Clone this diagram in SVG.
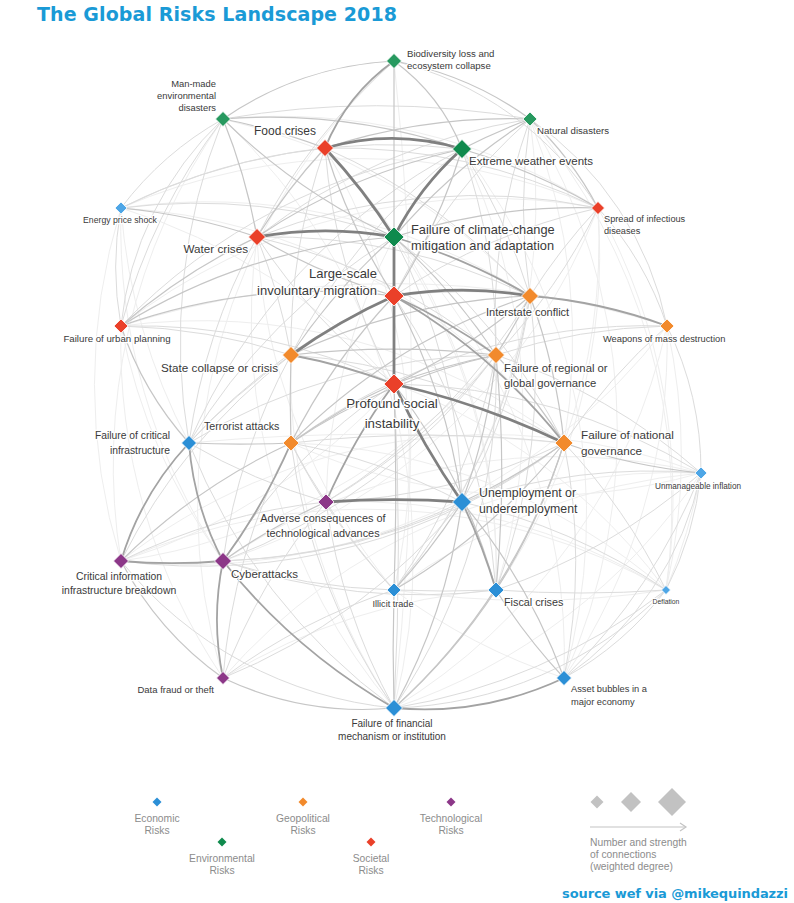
<svg xmlns="http://www.w3.org/2000/svg" width="794" height="903" viewBox="0 0 794 903">
<style>
.c path{fill:none}
.e1 path{stroke:#eeeeee;stroke-width:1}
.e2 path{stroke:#dcdcdc;stroke-width:1}
.e3 path{stroke:#c6c6c6;stroke-width:1.2}
.e4 path{stroke:#a3a3a3;stroke-width:1.8}
.e5 path{stroke:#808080;stroke-width:2.8}
.n path{stroke:#fff;stroke-width:0.8}
.env{fill:#27995f}.envd{fill:#0f8a4d}
.soc{fill:#ea4029}.geo{fill:#f28a2c}.eco{fill:#2b8fd6}.ecol{fill:#4ea6e6}.tec{fill:#8c3788}
.n text{font-family:"Liberation Sans",Arial,sans-serif;fill:#3a3a3a;stroke:#fff;stroke-width:2.5;stroke-linejoin:round;paint-order:stroke}
.lg text{font-family:"Liberation Sans",Arial,sans-serif;fill:#8c8c8c;font-size:10.3px}
.ttl{font-family:"DejaVu Sans",Verdana,sans-serif;font-weight:bold;fill:#1a9ad6}
</style>
<defs>
<marker id="arr" markerWidth="10" markerHeight="10" refX="8" refY="5" orient="auto" markerUnits="userSpaceOnUse">
<path d="M2 1L8 5L2 9" fill="none" stroke="#c4c4c4" stroke-width="1.2"/>
</marker>
</defs>
<rect width="794" height="903" fill="#fff"/>
<text class="ttl" x="37" y="21" font-size="19" textLength="360">The Global Risks Landscape 2018</text>

<g id="connectors" class="c">
<g class="e1">
<path d="M394 237A600 600 0 0 1 496 590"/>
<path d="M394 237A600 600 0 0 0 326 502"/>
<path d="M394 237A600 600 0 0 1 564 678"/>
<path d="M394 384A600 600 0 0 1 121 561"/>
<path d="M394 384A600 600 0 0 0 121 208"/>
<path d="M496 355A600 600 0 0 1 121 561"/>
<path d="M223 561A600 600 0 0 1 121 326"/>
<path d="M121 561A600 600 0 0 1 121 208"/>
<path d="M564 678A600 600 0 0 1 394 590"/>
<path d="M223 678A600 600 0 0 1 496 590"/>
<path d="M121 326A600 600 0 0 1 598 208"/>
<path d="M598 208A600 600 0 0 1 564 443"/>
<path d="M701 473A600 600 0 0 1 666 590"/>
<path d="M121 208A600 600 0 0 1 598 208"/>
<path d="M223 119A600 600 0 0 1 598 208"/>
<path d="M121 208A600 600 0 0 1 530 296"/>
<path d="M121 326A900 900 0 0 1 667 326"/>
<path d="M189 443A2000 2000 0 0 1 564 443"/>
<path d="M121 561A600 600 0 0 1 666 590"/>
<path d="M223 561A600 600 0 0 1 701 473"/>
<path d="M223 678A600 600 0 0 1 701 473"/>
<path d="M394 590A600 600 0 0 1 701 473"/>
<path d="M223 119A600 600 0 0 1 394 708"/>
<path d="M394 61A3000 3000 0 0 1 394 708"/>
<path d="M530 119A600 600 0 0 1 564 678"/>
<path d="M598 208A600 600 0 0 1 666 590"/>
<path d="M667 326A600 600 0 0 1 666 590"/>
<path d="M667 326A600 600 0 0 1 564 678"/>
<path d="M121 208A600 600 0 0 0 223 561"/>
<path d="M121 326A600 600 0 0 0 223 678"/>
<path d="M325 148A600 600 0 0 1 394 590"/>
<path d="M462 149A600 600 0 0 1 496 590"/>
<path d="M462 149A600 600 0 0 1 564 678"/>
<path d="M530 119A600 600 0 0 1 564 443"/>
<path d="M598 208A600 600 0 0 1 496 590"/>
<path d="M667 326A600 600 0 0 1 394 708"/>
<path d="M701 473A600 600 0 0 1 394 708"/>
<path d="M291 443A600 600 0 0 1 666 590"/>
<path d="M326 502A600 600 0 0 1 666 590"/>
<path d="M121 208A600 600 0 0 0 189 443"/>
<path d="M223 119A600 600 0 0 0 121 561"/>
<path d="M394 61A600 600 0 0 0 223 678"/>
<path d="M530 119A600 600 0 0 1 666 590"/>
<path d="M257 237A600 600 0 0 0 394 590"/>
<path d="M257 237A600 600 0 0 0 394 708"/>
<path d="M291 355A600 600 0 0 0 394 708"/>
<path d="M291 355A600 600 0 0 1 666 590"/>
<path d="M325 148A600 600 0 0 1 496 590"/>
<path d="M223 119A600 600 0 0 1 530 296"/>
<path d="M121 326A600 600 0 0 1 564 443"/>
<path d="M121 561A600 600 0 0 1 701 473"/>
<path d="M121 208A600 600 0 0 1 564 443"/>
<path d="M598 208A600 600 0 0 1 223 561"/>
<path d="M530 119A600 600 0 0 1 394 590"/>
<path d="M667 326A600 600 0 0 1 121 561"/>
<path d="M701 473A600 600 0 0 1 291 443"/>
<path d="M666 590A900 900 0 0 1 394 590"/>
</g>
<g class="e2">
<path d="M394 237A600 600 0 0 0 121 208"/>
<path d="M394 237A600 600 0 0 1 564 443"/>
<path d="M394 237A600 600 0 0 1 462 502"/>
<path d="M394 237A600 600 0 0 0 189 443"/>
<path d="M394 296A600 600 0 0 1 598 208"/>
<path d="M394 296A600 600 0 0 1 667 326"/>
<path d="M394 296A600 600 0 0 1 496 590"/>
<path d="M394 296A600 600 0 0 0 189 443"/>
<path d="M394 296A600 600 0 0 1 530 119"/>
<path d="M394 384A600 600 0 0 1 257 237"/>
<path d="M394 384A600 600 0 0 1 325 148"/>
<path d="M394 384A600 600 0 0 0 223 561"/>
<path d="M394 384A3000 3000 0 0 1 394 708"/>
<path d="M394 384A600 600 0 0 0 121 326"/>
<path d="M394 384A600 600 0 0 1 701 473"/>
<path d="M462 149A600 600 0 0 0 121 326"/>
<path d="M462 149A600 600 0 0 1 530 296"/>
<path d="M462 149A600 600 0 0 1 496 355"/>
<path d="M462 149A600 600 0 0 0 291 355"/>
<path d="M462 149A600 600 0 0 0 121 208"/>
<path d="M462 149A600 600 0 0 0 189 443"/>
<path d="M325 148A600 600 0 0 0 291 355"/>
<path d="M325 148A600 600 0 0 1 598 208"/>
<path d="M325 148A600 600 0 0 0 121 208"/>
<path d="M325 148A600 600 0 0 1 530 296"/>
<path d="M257 237A600 600 0 0 1 394 61"/>
<path d="M257 237A600 600 0 0 1 291 355"/>
<path d="M257 237A600 600 0 0 1 530 119"/>
<path d="M257 237A600 600 0 0 1 598 208"/>
<path d="M257 237A600 600 0 0 1 530 296"/>
<path d="M257 237A600 600 0 0 1 496 355"/>
<path d="M257 237A600 600 0 0 0 189 443"/>
<path d="M530 296A600 600 0 0 1 598 208"/>
<path d="M530 296A600 600 0 0 1 530 119"/>
<path d="M530 296A600 600 0 0 1 496 590"/>
<path d="M530 296A600 600 0 0 1 394 590"/>
<path d="M530 296A600 600 0 0 1 462 502"/>
<path d="M530 296A600 600 0 0 1 326 502"/>
<path d="M496 355A600 600 0 0 1 667 326"/>
<path d="M496 355A600 600 0 0 1 701 473"/>
<path d="M496 355A600 600 0 0 1 394 708"/>
<path d="M496 355A600 600 0 0 1 394 590"/>
<path d="M496 355A600 600 0 0 0 189 443"/>
<path d="M496 355A600 600 0 0 1 223 561"/>
<path d="M496 355A600 600 0 0 1 326 502"/>
<path d="M564 443A600 600 0 0 1 564 678"/>
<path d="M564 443A1200 1200 0 0 0 291 443"/>
<path d="M564 443A600 600 0 0 0 291 355"/>
<path d="M564 443A600 600 0 0 1 223 561"/>
<path d="M564 443A600 600 0 0 1 667 326"/>
<path d="M564 443A600 600 0 0 1 326 502"/>
<path d="M564 443A600 600 0 0 1 666 590"/>
<path d="M564 443A600 600 0 0 1 121 561"/>
<path d="M462 502A600 600 0 0 1 701 473"/>
<path d="M462 502A600 600 0 0 1 666 590"/>
<path d="M462 502A600 600 0 0 1 223 561"/>
<path d="M462 502A600 600 0 0 0 291 443"/>
<path d="M462 502A600 600 0 0 1 223 678"/>
<path d="M394 708A600 600 0 0 0 666 590"/>
<path d="M394 708A400 400 0 0 1 121 561"/>
<path d="M394 708A600 600 0 0 1 189 443"/>
<path d="M394 708A600 600 0 0 1 291 443"/>
<path d="M394 708A600 600 0 0 1 326 502"/>
<path d="M223 561A600 600 0 0 0 394 590"/>
<path d="M223 561A600 600 0 0 0 496 590"/>
<path d="M223 561A600 600 0 0 1 291 355"/>
<path d="M291 443A600 600 0 0 0 326 502"/>
<path d="M291 443A600 600 0 0 0 394 590"/>
<path d="M291 443A600 600 0 0 0 223 678"/>
<path d="M291 443A600 600 0 0 1 667 326"/>
<path d="M189 443A600 600 0 0 1 223 119"/>
<path d="M189 443A600 600 0 0 1 291 355"/>
<path d="M189 443A600 600 0 0 0 326 502"/>
<path d="M121 561A600 600 0 0 1 326 502"/>
<path d="M121 561A600 600 0 0 1 291 355"/>
<path d="M564 678A600 600 0 0 0 701 473"/>
<path d="M223 678A600 600 0 0 1 394 590"/>
<path d="M223 678A600 600 0 0 1 326 502"/>
<path d="M121 326A600 600 0 0 1 291 355"/>
<path d="M598 208A600 600 0 0 1 496 355"/>
<path d="M394 590A1200 1200 0 0 0 496 590"/>
<path d="M394 590A600 600 0 0 1 326 502"/>
<path d="M223 119A900 900 0 0 1 530 119"/>
<path d="M223 119A600 600 0 0 0 121 326"/>
<path d="M530 119A600 600 0 0 0 496 355"/>
<path d="M701 473A600 600 0 0 1 496 590"/>
<path d="M666 590A1200 1200 0 0 1 496 590"/>
<path d="M598 208A330 330 0 0 1 667 326"/>
<path d="M667 326A330 330 0 0 1 701 473"/>
<path d="M701 473A330 330 0 0 1 666 590"/>
<path d="M666 590A330 330 0 0 1 564 678"/>
<path d="M121 326A330 330 0 0 1 121 208"/>
<path d="M121 208A330 330 0 0 1 223 119"/>
<path d="M394 61A330 330 0 0 1 598 208"/>
<path d="M530 119A330 330 0 0 1 667 326"/>
<path d="M701 473A330 330 0 0 1 564 678"/>
<path d="M666 590A400 400 0 0 1 394 708"/>
<path d="M121 326A330 330 0 0 1 223 119"/>
</g>
<g class="e3">
<path d="M394 237A600 600 0 0 1 530 119"/>
<path d="M394 237A600 600 0 0 1 598 208"/>
<path d="M394 237A600 600 0 0 1 496 355"/>
<path d="M394 237A600 600 0 0 1 223 119"/>
<path d="M394 237A600 600 0 0 0 121 326"/>
<path d="M394 237A600 600 0 0 0 291 355"/>
<path d="M394 296A600 600 0 0 1 257 237"/>
<path d="M394 296A600 600 0 0 1 325 148"/>
<path d="M394 296A600 600 0 0 0 462 149"/>
<path d="M394 296A600 600 0 0 0 291 443"/>
<path d="M394 296A600 600 0 0 1 462 502"/>
<path d="M394 296A600 600 0 0 0 121 326"/>
<path d="M394 384A3000 3000 0 0 1 394 590"/>
<path d="M394 384A600 600 0 0 1 496 355"/>
<path d="M394 384A600 600 0 0 0 530 296"/>
<path d="M394 384A600 600 0 0 0 291 443"/>
<path d="M394 384A600 600 0 0 1 496 590"/>
<path d="M462 149A600 600 0 0 0 257 237"/>
<path d="M462 149A600 600 0 0 1 598 208"/>
<path d="M462 149A600 600 0 0 0 223 119"/>
<path d="M325 148A600 600 0 0 0 257 237"/>
<path d="M325 148A600 600 0 0 0 223 119"/>
<path d="M325 148A600 600 0 0 1 530 119"/>
<path d="M257 237A600 600 0 0 0 223 119"/>
<path d="M257 237A600 600 0 0 0 121 326"/>
<path d="M257 237A600 600 0 0 0 121 208"/>
<path d="M530 296A600 600 0 0 1 496 355"/>
<path d="M530 296A600 600 0 0 1 564 443"/>
<path d="M530 296A600 600 0 0 0 291 355"/>
<path d="M530 296A600 600 0 0 0 291 443"/>
<path d="M496 355A600 600 0 0 1 564 443"/>
<path d="M496 355A900 900 0 0 0 291 355"/>
<path d="M496 355A600 600 0 0 0 291 443"/>
<path d="M496 355A600 600 0 0 1 462 502"/>
<path d="M496 355A1200 1200 0 0 1 496 590"/>
<path d="M564 443A600 600 0 0 1 462 502"/>
<path d="M564 443A600 600 0 0 0 701 473"/>
<path d="M564 443A600 600 0 0 1 496 590"/>
<path d="M564 443A600 600 0 0 1 394 708"/>
<path d="M564 443A600 600 0 0 1 394 590"/>
<path d="M462 502A600 600 0 0 1 394 590"/>
<path d="M462 502A600 600 0 0 1 394 708"/>
<path d="M462 502A600 600 0 0 1 564 678"/>
<path d="M394 708A600 600 0 0 0 496 590"/>
<path d="M394 708A2000 2000 0 0 1 394 590"/>
<path d="M223 561A600 600 0 0 1 326 502"/>
<path d="M291 443A1200 1200 0 0 1 291 355"/>
<path d="M291 443A1200 1200 0 0 1 189 443"/>
<path d="M291 443A600 600 0 0 0 121 561"/>
<path d="M189 443A330 330 0 0 1 121 326"/>
<path d="M564 678A600 600 0 0 1 496 590"/>
<path d="M394 61A330 330 0 0 1 530 119"/>
<path d="M530 119A330 330 0 0 1 598 208"/>
<path d="M394 708A330 330 0 0 1 223 678"/>
<path d="M223 678A330 330 0 0 1 121 561"/>
<path d="M223 119A330 330 0 0 1 394 61"/>
<path d="M394 61A200 200 0 0 1 462 149"/>
<path d="M462 149A600 600 0 0 1 530 119"/>
<path d="M394 61L394 237"/>
</g>
<g class="e4">
<path d="M394 61A200 200 0 0 0 325 148"/>
<path d="M223 678A288 288 0 0 1 223 561"/>
<path d="M223 561A600 600 0 0 0 291 443"/>
<path d="M189 443A300 300 0 0 0 121 561"/>
<path d="M189 443A300 300 0 0 0 223 561"/>
<path d="M121 561A600 600 0 0 0 223 561"/>
<path d="M223 561A600 600 0 0 0 394 708"/>
<path d="M564 678A330 330 0 0 1 394 708"/>
<path d="M530 296A500 500 0 0 1 667 326"/>
<path d="M394 296A600 600 0 0 1 496 355"/>
<path d="M394 296A600 600 0 0 1 564 443"/>
<path d="M394 384A600 600 0 0 0 291 355"/>
<path d="M394 384A600 600 0 0 0 326 502"/>
<path d="M462 502A600 600 0 0 1 496 590"/>
<path d="M394 237A600 600 0 0 1 530 296"/>
</g>
<g class="e5">
<path d="M394 296L394 384"/>
<path d="M394 237L394 296"/>
<path d="M394 296A600 600 0 0 0 291 355"/>
<path d="M394 296A400 400 0 0 1 530 296"/>
<path d="M394 237A300 300 0 0 1 462 149"/>
<path d="M257 237A390 390 0 0 1 394 237"/>
<path d="M325 148A600 600 0 0 1 394 237"/>
<path d="M325 148A240 240 0 0 1 462 149"/>
<path d="M394 384A800 800 0 0 0 462 502"/>
<path d="M394 384A800 800 0 0 1 564 443"/>
<path d="M326 502A1000 1000 0 0 1 462 502"/>
</g>
</g>

<g id="nodes" class="n">
<g id="node-biodiversity"><path class="env" d="M394 53.5l7.5 7.5-7.5 7.5-7.5-7.5z"/><text font-size="9.6"><tspan x="407" y="57">Biodiversity loss and</tspan><tspan x="407" y="69">ecosystem collapse</tspan></text></g>
<g id="node-manmade"><path class="env" d="M223 111.5l7.5 7.5-7.5 7.5-7.5-7.5z"/><text font-size="9.4" text-anchor="end"><tspan x="216" y="87">Man-made</tspan><tspan x="216" y="99">environmental</tspan><tspan x="216" y="111">disasters</tspan></text></g>
<g id="node-natural"><path class="env" d="M530 112l7 7-7 7-7-7z"/><text font-size="9.6" x="537" y="134">Natural disasters</text></g>
<g id="node-food"><path class="soc" d="M325 139.5l8.5 8.5-8.5 8.5-8.5-8.5z"/><text font-size="12" x="316" y="135" text-anchor="end">Food crises</text></g>
<g id="node-extreme"><path class="envd" d="M462 139.5l9.5 9.5-9.5 9.5-9.5-9.5z"/><text font-size="11.5" x="469" y="165">Extreme weather events</text></g>
<g id="node-energy"><path class="ecol" d="M121 202l6 6-6 6-6-6z"/><text font-size="8.7" x="120" y="223" text-anchor="middle">Energy price shock</text></g>
<g id="node-spread"><path class="soc" d="M598 201.5l6.5 6.5-6.5 6.5-6.5-6.5z"/><text font-size="9.2"><tspan x="604" y="222">Spread of infectious</tspan><tspan x="604" y="234">diseases</tspan></text></g>
<g id="node-water"><path class="soc" d="M257 228.5l8.5 8.5-8.5 8.5-8.5-8.5z"/><text font-size="11.7" x="248" y="253" text-anchor="end">Water crises</text></g>
<g id="node-climate"><path class="envd" d="M394 227l10 10-10 10-10-10z"/><text font-size="12.8"><tspan x="411" y="234">Failure of climate-change</tspan><tspan x="411" y="250">mitigation and adaptation</tspan></text></g>
<g id="node-migration"><path class="soc" d="M394 286l10 10-10 10-10-10z"/><text font-size="13" text-anchor="end"><tspan x="377" y="278">Large-scale</tspan><tspan x="377" y="295">involuntary migration</tspan></text></g>
<g id="node-interstate"><path class="geo" d="M530 287.5l8.5 8.5-8.5 8.5-8.5-8.5z"/><text font-size="11" x="486" y="316">Interstate conflict</text></g>
<g id="node-urban"><path class="soc" d="M121 319l7 7-7 7-7-7z"/><text font-size="9.7" x="117" y="342" text-anchor="middle">Failure of urban planning</text></g>
<g id="node-wmd"><path class="geo" d="M667 319l7 7-7 7-7-7z"/><text font-size="9.3" x="603" y="342">Weapons of mass destruction</text></g>
<g id="node-state"><path class="geo" d="M291 346.5l8.5 8.5-8.5 8.5-8.5-8.5z"/><text font-size="11.7" x="278" y="372" text-anchor="end">State collapse or crisis</text></g>
<g id="node-regional"><path class="geo" d="M496 346.5l8.5 8.5-8.5 8.5-8.5-8.5z"/><text font-size="11.3"><tspan x="504" y="372">Failure of regional or</tspan><tspan x="504" y="387">global governance</tspan></text></g>
<g id="node-social"><path class="soc" d="M394 374l10 10-10 10-10-10z"/><text font-size="13.3" text-anchor="middle"><tspan x="392" y="408">Profound social</tspan><tspan x="392" y="428">instability</tspan></text></g>
<g id="node-critical"><path class="eco" d="M189 435.5l7.5 7.5-7.5 7.5-7.5-7.5z"/><text font-size="10.3" text-anchor="end"><tspan x="170" y="439">Failure of critical</tspan><tspan x="170" y="454">infrastructure</tspan></text></g>
<g id="node-terrorist"><path class="geo" d="M291 435l8 8-8 8-8-8z"/><text font-size="10.7" x="204" y="430">Terrorist attacks</text></g>
<g id="node-national"><path class="geo" d="M564 434l9 9-9 9-9-9z"/><text font-size="11.7"><tspan x="581" y="439">Failure of national</tspan><tspan x="581" y="455">governance</tspan></text></g>
<g id="node-inflation"><path class="ecol" d="M701 467l6 6-6 6-6-6z"/><text font-size="8.2" x="698" y="489" text-anchor="middle">Unmanageable inflation</text></g>
<g id="node-adverse"><path class="tec" d="M326 494l8 8-8 8-8-8z"/><text font-size="10.9" text-anchor="middle"><tspan x="323" y="522">Adverse consequences of</tspan><tspan x="323" y="537">technological advances</tspan></text></g>
<g id="node-unemployment"><path class="eco" d="M462 492.5l9.5 9.5-9.5 9.5-9.5-9.5z"/><text font-size="12.3"><tspan x="479" y="497">Unemployment or</tspan><tspan x="479" y="513">underemployment</tspan></text></g>
<g id="node-cii"><path class="tec" d="M121 553.5l7.5 7.5-7.5 7.5-7.5-7.5z"/><text font-size="10.4" text-anchor="middle"><tspan x="119" y="580">Critical information</tspan><tspan x="119" y="594">infrastructure breakdown</tspan></text></g>
<g id="node-cyber"><path class="tec" d="M223 552.5l8.5 8.5-8.5 8.5-8.5-8.5z"/><text font-size="11.5" x="231" y="578">Cyberattacks</text></g>
<g id="node-illicit"><path class="eco" d="M394 583l7 7-7 7-7-7z"/><text font-size="9.1" x="393" y="607" text-anchor="middle">Illicit trade</text></g>
<g id="node-fiscal"><path class="eco" d="M496 582l8 8-8 8-8-8z"/><text font-size="10.8" x="504" y="606">Fiscal crises</text></g>
<g id="node-deflation"><path class="ecol" d="M666 585.5l4.5 4.5-4.5 4.5-4.5-4.5z"/><text font-size="6.8" x="666" y="604" text-anchor="middle">Deflation</text></g>
<g id="node-datafraud"><path class="tec" d="M223 671.5l6.5 6.5-6.5 6.5-6.5-6.5z"/><text font-size="9.5" x="214" y="693" text-anchor="end">Data fraud or theft</text></g>
<g id="node-asset"><path class="eco" d="M564 670.5l7.5 7.5-7.5 7.5-7.5-7.5z"/><text font-size="9.3"><tspan x="571" y="692">Asset bubbles in a</tspan><tspan x="571" y="705">major economy</tspan></text></g>
<g id="node-financial"><path class="eco" d="M394 699.5l8.5 8.5-8.5 8.5-8.5-8.5z"/><text font-size="10" text-anchor="middle"><tspan x="392" y="727">Failure of financial</tspan><tspan x="392" y="740">mechanism or institution</tspan></text></g>
</g>

<g id="legend" class="lg">
<path class="eco" d="M157 797.5l4.5 4.5-4.5 4.5-4.5-4.5z"/>
<text text-anchor="middle"><tspan x="157" y="822">Economic</tspan><tspan x="157" y="834">Risks</tspan></text>
<path class="geo" d="M303 797.5l4.5 4.5-4.5 4.5-4.5-4.5z"/>
<text text-anchor="middle"><tspan x="303" y="822">Geopolitical</tspan><tspan x="303" y="834">Risks</tspan></text>
<path class="tec" d="M451 797.5l4.5 4.5-4.5 4.5-4.5-4.5z"/>
<text text-anchor="middle"><tspan x="451" y="822">Technological</tspan><tspan x="451" y="834">Risks</tspan></text>
<path class="envd" d="M222 837.5l4.5 4.5-4.5 4.5-4.5-4.5z"/>
<text text-anchor="middle"><tspan x="222" y="862">Environmental</tspan><tspan x="222" y="874">Risks</tspan></text>
<path class="soc" d="M371 837.5l4.5 4.5-4.5 4.5-4.5-4.5z"/>
<text text-anchor="middle"><tspan x="371" y="862">Societal</tspan><tspan x="371" y="874">Risks</tspan></text>
<path fill="#c2c2c2" d="M597 795.5l6.5 6.5-6.5 6.5-6.5-6.5z"/>
<path fill="#c2c2c2" d="M631 792l10 10-10 10-10-10z"/>
<path fill="#c2c2c2" d="M672 788l14 14-14 14-14-14z"/>
<line x1="590" y1="827" x2="686" y2="827" stroke="#c4c4c4" stroke-width="1.2" marker-end="url(#arr)"/>
<text><tspan x="590" y="846">Number and strength</tspan><tspan x="590" y="858">of connections</tspan><tspan x="590" y="870">(weighted degree)</tspan></text>
</g>
<text class="ttl" x="562" y="898" font-size="13" textLength="226">source wef via @mikequindazzi</text>
</svg>
